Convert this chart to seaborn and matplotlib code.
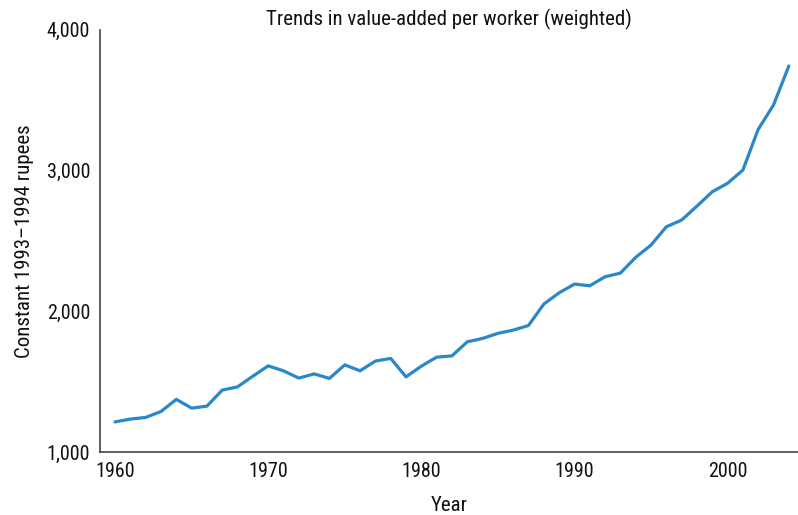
import pandas as pd
import seaborn as sns
import matplotlib.pyplot as plt
from matplotlib.ticker import FuncFormatter

# value-added per worker, constant 1993-94 rupees
years = list(range(1960, 2005))
values = [1215, 1235, 1247, 1289, 1375, 1313, 1327, 1441, 1464, 1540,
          1613, 1578, 1526, 1556, 1524, 1620, 1578, 1647, 1666, 1535,
          1611, 1675, 1684, 1784, 1808, 1844, 1867, 1900, 2052, 2132,
          2194, 2182, 2246, 2272, 2384, 2471, 2601, 2649, 2748, 2850,
          2910, 3004, 3293, 3466, 3743]

df = pd.DataFrame({"Year": years, "Value": values})

sns.set_style("white")
plt.rcParams["font.family"] = ["Roboto Condensed", "DejaVu Sans"]

fig = plt.figure(figsize=(7.98, 5.15), dpi=100)
ax = fig.add_axes([0.125, 0.122, 0.875, 0.82])

sns.lineplot(data=df, x="Year", y="Value", color="#2a87c8", linewidth=2.3, ax=ax)

ax.set_xlim(1959, 2004.6)
ax.set_ylim(1000, 4000)
ax.set_xticks([1960, 1970, 1980, 1990, 2000])
ax.set_yticks([1000, 2000, 3000, 4000])
ax.yaxis.set_major_formatter(FuncFormatter(lambda v, p: f"{int(v):,}"))
ax.tick_params(length=0, labelsize=14.5, pad=7, colors="#111111")

for s in ["top", "right"]:
    ax.spines[s].set_visible(False)
for s in ["left", "bottom"]:
    ax.spines[s].set_color("#444444")
    ax.spines[s].set_linewidth(1.2)

ax.set_xlabel("Year", fontsize=15, labelpad=11, color="#111111")
ax.set_ylabel("Constant 1993\u20131994 rupees", fontsize=15, labelpad=9, color="#111111")
ax.set_title("Trends in value-added per worker (weighted)", fontsize=15, pad=3, color="#111111")

fig.savefig("out.png", dpi=100)
